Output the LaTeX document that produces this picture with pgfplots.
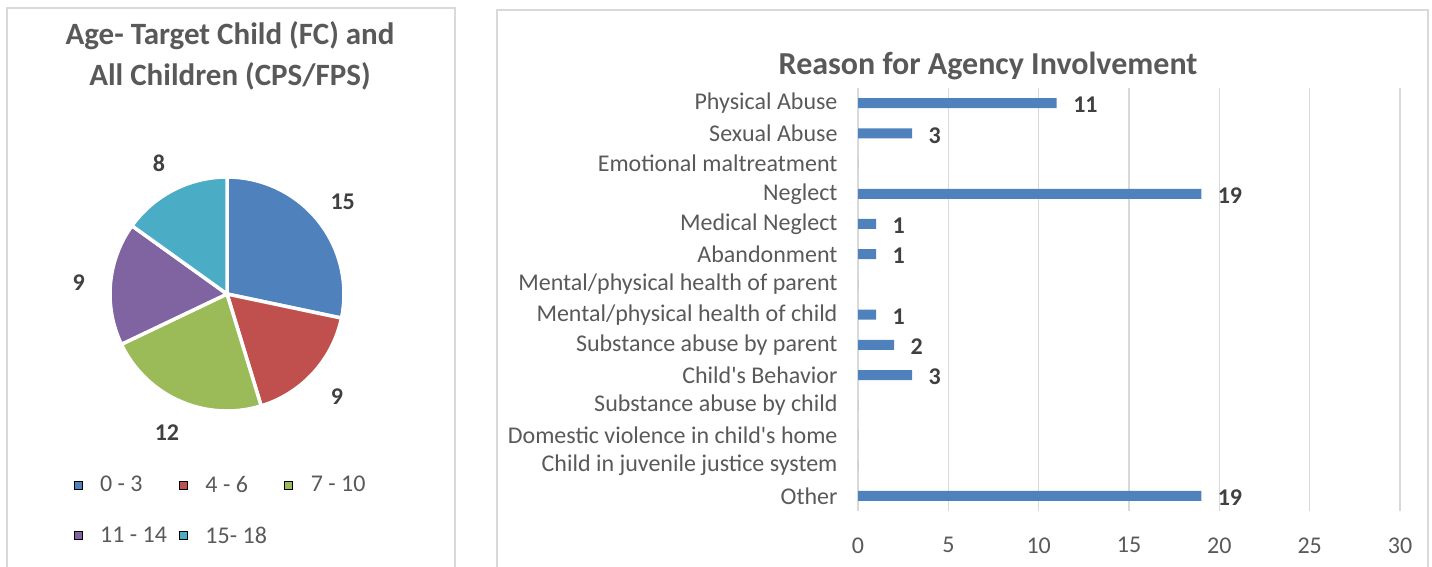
\documentclass[border=0pt]{standalone}
\usepackage{pgfplots}
\pgfplotsset{compat=1.18}
\usepackage{pgfplotstable}
\usepackage{fontspec}
\setmainfont{Carlito}[Ligatures=TeXOff]
\definecolor{c1}{HTML}{4F81BD}
\definecolor{c2}{HTML}{C0504D}
\definecolor{c3}{HTML}{9BBB59}
\definecolor{c4}{HTML}{8064A2}
\definecolor{c5}{HTML}{4BACC6}
\definecolor{txt}{HTML}{595959}
\definecolor{lbl}{HTML}{404040}
\definecolor{grd}{HTML}{D9D9D9}

\pgfplotstableread[col sep=comma]{
group,value,col
0 - 3,15,c1
4 - 6,9,c2
7 - 10,12,c3
11 - 14,9,c4
15- 18,8,c5
}\pietable

\pgfplotstableread[col sep=comma]{
idx,reason,count
0,Physical Abuse,11
1,Sexual Abuse,3
2,Emotional maltreatment,0
3,Neglect,19
4,Medical Neglect,1
5,Abandonment,1
6,Mental/physical health of parent,0
7,Mental/physical health of child,1
8,Substance abuse by parent,2
9,Child's Behavior,3
10,Substance abuse by child,0
11,Domestic violence in child's home,0
12,Child in juvenile justice system,0
13,Other,19
}\bartable

% pie angles from the table
\def\total{0}
\pgfplotsforeachungrouped \i in {0,...,4}{%
  \pgfplotstablegetelem{\i}{value}\of\pietable
  \pgfmathsetmacro{\total}{\total+\pgfplotsretval}%
}
\def\cur{90}
\pgfplotsforeachungrouped \i in {0,...,4}{%
  \pgfplotstablegetelem{\i}{value}\of\pietable
  \let\sv\pgfplotsretval
  \pgfmathsetmacro{\sweep}{360*\sv/\total}%
  \pgfmathsetmacro{\nxt}{\cur-\sweep}%
  \pgfmathsetmacro{\smid}{\cur-\sweep/2}%
  \expandafter\xdef\csname sA\i\endcsname{\cur}%
  \expandafter\xdef\csname sB\i\endcsname{\nxt}%
  \expandafter\xdef\csname sM\i\endcsname{\smid}%
  \expandafter\xdef\csname sV\i\endcsname{\sv}%
  \pgfplotstablegetelem{\i}{col}\of\pietable
  \expandafter\xdef\csname sC\i\endcsname{\pgfplotsretval}%
  \let\cur\nxt
}

\begin{document}
\begin{tikzpicture}
\path[use as bounding box] (0,0) rectangle (1432bp,567bp);
\draw[grd, line width=1.5bp] (7bp,-2bp) -- (7bp,559bp) -- (455bp,559bp) -- (455bp,-2bp);
\draw[grd, line width=1.5bp] (497bp,-2bp) -- (497bp,557bp) -- (1428bp,557bp) -- (1428bp,-2bp);

% ---------- pie ----------
\begin{axis}[
  at={(0,0)}, anchor=south west, scale only axis,
  width=455bp, height=567bp,
  xmin=0, xmax=455, ymin=0, ymax=567,
  hide axis, clip=false,
  title={Age- Target Child (FC) and\\All Children (CPS/FPS)},
  title style={at={(rel axis cs:0.5055,0.8915)}, anchor=center, align=center,
    font=\fontsize{31bp}{41bp}\selectfont\bfseries, text=txt},
  legend columns=3,
  legend cell align=left,
  legend style={at={(rel axis cs:0.155,0.168)}, anchor=north west, draw=none, fill=none,
    font=\fontsize{24bp}{29bp}\selectfont, text=txt,
    /tikz/every odd column/.append style={column sep=16bp},
    /tikz/every even column/.append style={column sep=7bp},
    row sep=29bp},
  legend image code/.code={\fill[#1] (0bp,-4bp) rectangle (8bp,4bp);},
]
\pgfplotsinvokeforeach{0,...,4}{%
  \fill[fill=\csname sC#1\endcsname, draw=white, line width=3.5bp]
    (axis cs:227,273) -- ++(\csname sA#1\endcsname:117bp)
    arc[start angle=\csname sA#1\endcsname, end angle=\csname sB#1\endcsname, radius=117bp] -- cycle;
}
\pgfplotsinvokeforeach{0,...,4}{%
  \node[font=\fontsize{24bp}{29bp}\selectfont\bfseries, text=lbl]
    at ([shift={(\csname sM#1\endcsname:149bp)}, yshift=-2bp]axis cs:227,273) {\csname sV#1\endcsname};
}
\addlegendimage{fill=c1}\addlegendentry{\makebox[70bp][l]{0 - 3}}
\addlegendimage{fill=c2}\addlegendentry{\makebox[70bp][l]{4 - 6}}
\addlegendimage{fill=c3}\addlegendentry{\makebox[70bp][l]{7 - 10}}
\addlegendimage{fill=c4}\addlegendentry{\makebox[70bp][l]{11 - 14}}
\addlegendimage{fill=c5}\addlegendentry{\makebox[70bp][l]{15- 18}}
\end{axis}

% ---------- bar ----------
\begin{axis}[
  at={(858bp,56bp)}, anchor=south west, scale only axis,
  width=542bp, height=423bp,
  xbar, bar width=10bp,
  xmin=0, xmax=30, ymin=-0.5, ymax=13.5,
  y dir=reverse,
  ytick={0,...,13},
  yticklabels from table={\bartable}{reason},
  xtick={0,5,...,30},
  xmajorgrids, grid style={grd, line width=1.2bp},
  axis line style={draw=none},
  major tick length=0pt,
  /pgf/number format/assume math mode=true,
  tick label style={font=\fontsize{24bp}{29bp}\selectfont, text=txt},
  yticklabel style={xshift=-17bp},
  xticklabel style={yshift=-23bp},
  title={Reason for Agency Involvement},
  title style={at={(rel axis cs:0.24,1.0378)}, anchor=center,
    font=\fontsize{32bp}{38bp}\selectfont\bfseries, text=txt},
  point meta=x,
  nodes near coords={\pgfmathfloatifflags{\pgfplotspointmeta}{0}{}{\pgfmathprintnumber{\pgfplotspointmeta}}},
  nodes near coords style={anchor=west, xshift=13bp, yshift=-2bp, font=\fontsize{24bp}{29bp}\selectfont\bfseries, text=lbl},
  clip=false,
]
\addplot[fill=c1, draw=none] table[x=count, y=idx]{\bartable};
\end{axis}
\end{tikzpicture}
\end{document}
